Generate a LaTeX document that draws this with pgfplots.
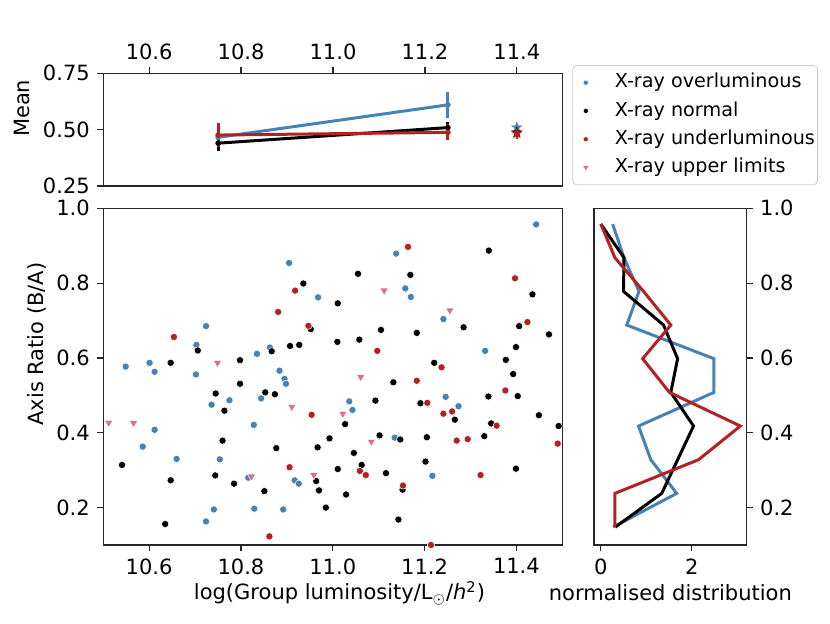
\documentclass[border=0pt]{standalone}
\usepackage{fontspec}
\setmainfont{DejaVu Sans}
\usepackage{pgfplots}
\pgfplotsset{compat=1.18}
\usetikzlibrary{plotmarks}

\definecolor{cblue}{RGB}{70,130,180}
\definecolor{cred}{RGB}{178,34,34}
\definecolor{cpink}{RGB}{219,112,147}

\pgfdeclareplotmark{fstar}{%
  \pgfpathmoveto{\pgfpointpolar{90}{\pgfplotmarksize}}%
  \pgfpathlineto{\pgfpointpolar{126}{0.4\pgfplotmarksize}}%
  \pgfpathlineto{\pgfpointpolar{162}{\pgfplotmarksize}}%
  \pgfpathlineto{\pgfpointpolar{198}{0.4\pgfplotmarksize}}%
  \pgfpathlineto{\pgfpointpolar{234}{\pgfplotmarksize}}%
  \pgfpathlineto{\pgfpointpolar{270}{0.4\pgfplotmarksize}}%
  \pgfpathlineto{\pgfpointpolar{306}{\pgfplotmarksize}}%
  \pgfpathlineto{\pgfpointpolar{342}{0.4\pgfplotmarksize}}%
  \pgfpathlineto{\pgfpointpolar{18}{\pgfplotmarksize}}%
  \pgfpathlineto{\pgfpointpolar{54}{0.4\pgfplotmarksize}}%
  \pgfpathclose
  \pgfusepathqfillstroke
}

\newcommand\fs{\fontsize{10.5}{12.6}\selectfont}
\newcommand\lfs{\fontsize{9.6}{11.5}\selectfont}

\pgfplotsset{
  myaxis/.style={
    scale only axis,
    axis line style={black!85, line width=0.6pt},
    tick style={black!85, line width=0.6pt},
    tick align=outside,
    major tick length=3.2pt,
    minor tick num=0,
    tick label style={font=\fs},
    label style={font=\fs},
    /pgf/number format/assume math mode=true,
  },
  dotstyle/.style={only marks, mark=*, mark size=1.8pt, mark options={draw=white, line width=0.25pt, fill=#1}, color=#1,
    legend image post style={mark size=1.3pt}},
  meanline/.style={color=#1, line width=1.5pt, mark=*, mark size=1.3pt, mark options={line width=0.1pt, fill=#1},
    error bars/.cd, y dir=both, y explicit, error mark=none, error bar style={line width=1.5pt}},
  starstyle/.style={color=#1, only marks, mark=fstar, mark size=2.8pt, mark options={line width=0.1pt, fill=#1},
    error bars/.cd, y dir=both, y explicit, error mark=none, error bar style={line width=1.2pt}},
}

\begin{document}
\begin{tikzpicture}
\path[use as bounding box] (0,0) rectangle (415pt,311.5pt);

% ---------------- top panel: mean ----------------
\begin{axis}[myaxis,
  at={(51.6pt,218.5pt)}, anchor=south west,
  width=229.8pt, height=56.35pt,
  xmin=10.5, xmax=11.5, ymin=0.25, ymax=0.75,
  xtick={10.6,10.8,11.0,11.2,11.4}, ytick={0.25,0.50,0.75},
  xtick pos=right, xticklabel pos=right, ytick pos=left,
  xticklabel style={/pgf/number format/.cd, fixed, fixed zerofill, precision=1},
  yticklabel style={/pgf/number format/.cd, fixed, fixed zerofill, precision=2},
  ylabel={Mean},
  ylabel style={at={(axis description cs:-0.177,0.689)}, anchor=center},
]
\addplot[meanline=cblue] table[x index=0, y index=1, y error index=2] {
10.75 0.466 0.040
11.25 0.610 0.058
};
\addplot[meanline=black] table[x index=0, y index=1, y error index=2] {
10.75 0.440 0.035
11.25 0.509 0.025
};
\addplot[meanline=cred] table[x index=0, y index=1, y error index=2] {
10.75 0.476 0.052
11.25 0.488 0.035
};
\addplot[starstyle=cblue] coordinates {(11.4,0.510) +- (0,0.015)};
\addplot[starstyle=black] coordinates {(11.4,0.488) +- (0,0.020)};
\addplot[starstyle=cred] coordinates {(11.4,0.484) +- (0,0.025)};
\end{axis}

% ---------------- main scatter ----------------
\begin{axis}[myaxis,
  at={(51.6pt,39pt)}, anchor=south west,
  width=229.55pt, height=168.35pt,
  xmin=10.5, xmax=11.5, ymin=0.1, ymax=1.0,
  xtick={10.6,10.8,11.0,11.2,11.4}, ytick={0.2,0.4,0.6,0.8,1.0},
  xtick pos=left, ytick pos=left,
  xticklabel style={/pgf/number format/.cd, fixed, fixed zerofill, precision=1},
  yticklabel style={/pgf/number format/.cd, fixed, fixed zerofill, precision=1},
  xlabel={log(Group luminosity/L\textsubscript{$\odot$}/\textit{h}\textsuperscript{2})},
  ylabel={Axis Ratio (B/A)},
  xlabel style={at={(axis description cs:0.5147,-0.1426)}, anchor=center},
  ylabel style={at={(axis description cs:-0.145,0.597)}, anchor=center},
  legend cell align=left,
  legend style={at={(axis description cs:1.0218,1.4256)}, anchor=north west,
    draw=black!20, rounded corners=2pt, fill=white, font=\lfs,
    inner xsep=1.35pt, inner ysep=3.7pt, row sep=4.35pt, column sep=9.3pt,
    nodes={inner sep=0pt, text height=7.5pt, text depth=2.3pt}},
  legend image code/.code={\path (0pt,0pt) (10pt,0pt); \draw[sharp corners, #1] plot coordinates {(5pt,0pt)};},
]
\addplot[dotstyle=cblue] table {
10.905 0.854
10.968 0.762
10.724 0.685
10.703 0.635
10.863 0.628
10.835 0.611
10.549 0.577
10.601 0.587
10.612 0.563
10.702 0.556
10.884 0.566
10.895 0.544
10.898 0.531
10.736 0.475
10.775 0.487
10.844 0.492
10.828 0.421
10.612 0.408
10.586 0.363
10.660 0.330
10.754 0.329
10.816 0.280
10.917 0.273
10.926 0.264
10.741 0.195
10.829 0.197
10.892 0.195
10.724 0.163
11.443 0.957
11.138 0.879
11.158 0.786
11.170 0.763
11.241 0.704
11.332 0.619
11.036 0.484
11.043 0.461
11.246 0.496
11.274 0.471
11.135 0.387
11.217 0.285
};
\addlegendentry{X-ray overluminous}
\addplot[dotstyle=black] table {
10.936 0.799
11.011 0.746
10.952 0.677
10.706 0.620
10.867 0.618
10.907 0.632
10.927 0.635
11.010 0.643
10.647 0.587
10.798 0.594
11.055 0.825
11.169 0.822
11.340 0.887
11.435 0.770
11.105 0.675
11.183 0.667
11.285 0.682
11.406 0.685
11.471 0.663
11.058 0.649
11.399 0.629
11.221 0.587
11.377 0.595
11.393 0.557
10.798 0.531
10.745 0.505
10.853 0.508
10.874 0.503
10.764 0.459
10.760 0.379
10.877 0.359
10.967 0.361
10.993 0.385
10.541 0.314
10.647 0.273
10.744 0.286
10.785 0.264
10.851 0.244
10.964 0.271
10.970 0.246
11.011 0.303
10.985 0.200
10.635 0.156
11.132 0.535
11.093 0.486
11.191 0.479
11.339 0.497
11.403 0.498
11.449 0.447
11.492 0.418
11.266 0.435
11.345 0.425
11.027 0.423
11.102 0.393
11.147 0.382
11.205 0.388
11.330 0.391
11.046 0.346
11.063 0.314
11.116 0.292
11.202 0.323
11.399 0.304
11.152 0.248
11.029 0.235
11.143 0.168
};
\addlegendentry{X-ray normal}
\addplot[dotstyle=cred] table {
10.918 0.780
10.881 0.723
10.947 0.686
10.654 0.656
11.164 0.897
11.397 0.813
11.424 0.696
11.097 0.619
11.237 0.575
10.954 0.448
10.906 0.308
10.862 0.123
11.183 0.539
11.206 0.480
11.376 0.513
11.241 0.451
11.260 0.457
11.357 0.419
11.270 0.379
11.294 0.383
11.490 0.371
11.059 0.298
11.072 0.287
11.322 0.287
11.153 0.259
11.214 0.100
};
\addlegendentry{X-ray underluminous}
\addplot[only marks, color=cpink, mark=triangle*, mark size=2.4pt, mark options={rotate=180, fill=cpink, draw=white, line width=0.25pt},
  legend image post style={mark size=1.8pt}] table {
10.749 0.587
11.112 0.780
11.255 0.727
11.061 0.549
10.512 0.427
10.566 0.426
10.911 0.469
10.823 0.283
10.959 0.287
11.022 0.451
11.084 0.376
};
\addlegendentry{X-ray upper limits}
\end{axis}

% ---------------- right panel: distribution ----------------
\begin{axis}[myaxis,
  at={(297pt,39pt)}, anchor=south west,
  width=76.35pt, height=168.35pt,
  xmin=-0.15, xmax=3.21, ymin=0.1, ymax=1.0,
  xtick={0,2}, ytick={0.2,0.4,0.6,0.8,1.0},
  xtick pos=left, ytick pos=right, yticklabel pos=right,
  yticklabel style={/pgf/number format/.cd, fixed, fixed zerofill, precision=1},
  xlabel={normalised distribution},
  xlabel style={at={(axis description cs:0.5,-0.1426)}, anchor=center},
]
\addplot[cblue, line width=1.5pt] table {
0.26 0.958
0.51 0.868
0.84 0.778
0.57 0.688
2.49 0.598
2.49 0.508
0.83 0.418
1.10 0.328
1.67 0.238
0.27 0.148
};
\addplot[black, line width=1.5pt] table {
0.00 0.958
0.51 0.868
0.50 0.778
1.38 0.688
1.69 0.598
1.54 0.508
2.04 0.418
1.69 0.328
1.34 0.238
0.32 0.148
};
\addplot[cred, line width=1.5pt] table {
0.00 0.958
0.31 0.868
0.94 0.778
1.54 0.688
0.92 0.598
1.51 0.508
3.07 0.418
2.15 0.328
0.31 0.238
0.31 0.148
};
\end{axis}
\end{tikzpicture}
\end{document}
